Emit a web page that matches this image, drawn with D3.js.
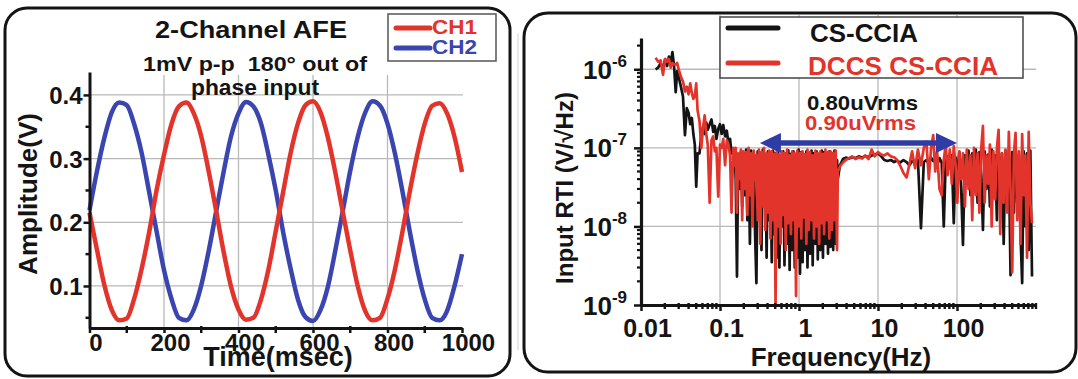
<!DOCTYPE html>
<html>
<head>
<meta charset="utf-8">
<script src="https://cdn.jsdelivr.net/npm/d3@7"></script>
<style>
  html, body { margin: 0; padding: 0; background: #fff; }
  svg { display: block; font-family: "Liberation Sans", Arial, sans-serif; font-weight: bold; }
</style>
</head>
<body>
<svg id="chart" width="1078" height="379"></svg>
<script>
// ---------- left panel: 2-channel AFE time trace ----------
const timeMs = [0, 20, 40, 60, 80, 100, 120, 140, 160, 180, 200, 220, 240, 260, 280, 300, 320, 340, 360, 380,
  400, 420, 440, 460, 480, 500, 520, 540, 560, 580, 600, 620, 640, 660, 680, 700, 720, 740, 760, 780,
  800, 820, 840, 860, 880, 900, 920, 940, 960, 980, 1000];
const ch1Volts = [0.215, 0.157, 0.101, 0.062, 0.046, 0.049, 0.080, 0.127, 0.184, 0.250,
  0.306, 0.354, 0.382, 0.388, 0.371, 0.335, 0.280, 0.218, 0.154, 0.099,
  0.063, 0.047, 0.050, 0.078, 0.125, 0.186, 0.248, 0.309, 0.356, 0.384,
  0.390, 0.373, 0.333, 0.278, 0.216, 0.156, 0.100, 0.061, 0.046, 0.050,
  0.080, 0.126, 0.185, 0.249, 0.307, 0.355, 0.383, 0.387, 0.371, 0.334, 0.279];
const ch2Volts = [0.219, 0.280, 0.333, 0.373, 0.388, 0.384, 0.354, 0.309, 0.248, 0.186,
  0.125, 0.080, 0.050, 0.046, 0.063, 0.101, 0.155, 0.217, 0.279, 0.335,
  0.371, 0.389, 0.382, 0.356, 0.307, 0.250, 0.184, 0.127, 0.078, 0.051,
  0.045, 0.062, 0.099, 0.156, 0.218, 0.281, 0.334, 0.372, 0.390, 0.383,
  0.355, 0.308, 0.249, 0.185, 0.126, 0.079, 0.050, 0.046, 0.061, 0.100, 0.150];
const timeTicks = [0, 200, 400, 600, 800, 1000];
const timeMinor = [100, 300, 500, 700, 900];
const ampTicks = [0.1, 0.2, 0.3, 0.4];
const ampMinor = [0.05, 0.15, 0.25, 0.35];
const channelNames = ['CH1', 'CH2'];

// ---------- right panel: input-referred noise spectrum (nV/rtHz) ----------
const freqHz = [
  0.0153, 0.0165, 0.0177, 0.019, 0.0202, 0.0214, 0.0226, 0.0238, 0.025, 0.0262,
  0.0275, 0.0287, 0.030, 0.032, 0.034, 0.036, 0.038, 0.040, 0.042, 0.044,
  0.046, 0.048, 0.050, 0.052, 0.055, 0.058, 0.061, 0.064, 0.067, 0.070,
  0.074, 0.078, 0.082, 0.086, 0.090, 0.095, 0.100, 0.105, 0.110, 0.116,
  0.122, 0.128, 0.134, 0.140, 0.147,
  0.152, 0.158, 0.164, 0.170, 0.177, 0.184, 0.191, 0.198, 0.206, 0.214,
  0.222, 0.230, 0.239, 0.248, 0.258, 0.268, 0.278, 0.289, 0.300, 0.311,
  0.323, 0.335, 0.348, 0.361, 0.375, 0.389, 0.404, 0.419, 0.435, 0.452,
  0.469, 0.487, 0.505, 0.524, 0.544, 0.565, 0.586, 0.608, 0.631, 0.655,
  0.680, 0.706, 0.733, 0.761, 0.790, 0.820, 0.851, 0.883, 0.917, 0.952,
  0.988, 1.03, 1.07, 1.11, 1.15, 1.19, 1.24, 1.28, 1.33, 1.38,
  1.44, 1.49, 1.55, 1.61, 1.67, 1.73, 1.80, 1.86, 1.94, 2.01,
  2.08, 2.16, 2.25, 2.33, 2.42, 2.51, 2.61, 2.71, 2.81, 2.92, 3.03,
  3.1, 3.3, 3.6, 3.9, 4.3, 4.7, 5.2, 5.7, 6.3, 6.9,
  7.6, 8.3, 9.1, 10, 11, 12, 13.2, 14.5, 16, 17.5,
  19, 21, 23, 25, 27, 29.5, 32, 35, 38,
  41, 44, 47, 50, 53, 56, 60, 64, 68, 72,
  76, 81, 86, 91, 96, 101, 107, 113, 119, 126,
  133, 140, 148, 156, 164, 173, 182, 192, 202, 213,
  224, 236, 248, 261, 275, 289, 304, 320, 336, 353,
  371, 390, 410, 431, 453, 476, 500, 525, 551, 578,
  607, 637, 668, 700, 734, 770, 808, 848, 890];
const csCciaNv = [
  1000, 1050, 1200, 1000, 1350, 1100, 1450, 1200, 1650, 1100,
  510, 950, 800, 600, 450, 145, 320, 280, 200, 240,
  150, 110, 32, 85, 85, 150, 185, 150, 210, 170,
  200, 230, 160, 190, 130, 175, 200, 150, 195, 140,
  165, 110, 130, 85, 95,
  95, 40, 2.3, 80, 30, 90, 18, 85, 25, 95,
  12, 88, 6, 92, 20, 80, 8, 1.9, 90, 15,
  85, 5, 95, 25, 82, 4, 90, 12, 78, 3.5,
  92, 8, 85, 4, 88, 3, 80, 10, 90, 3.2,
  85, 6, 93, 2.8, 84, 5, 90, 3, 82, 4,
  95, 2.5, 88, 3.5, 80, 5, 90, 3, 85, 4.5,
  92, 3.2, 86, 6, 90, 3.8, 83, 5, 92, 4,
  88, 6, 85, 4.5, 90, 5.5, 86, 5, 92, 6, 70,
  40, 60, 72, 75, 73, 76, 74, 78, 75, 79,
  76, 80, 82, 85, 78, 70, 68, 70, 66, 69,
  65, 70, 66, 60, 68, 64, 70, 9.5, 66,
  70, 62, 75, 68, 72, 60, 74, 65, 10, 70,
  78, 55, 80, 11, 75, 45, 88, 30, 5.8, 80,
  35, 92, 25, 85, 40, 95, 20, 88, 45, 9,
  90, 30, 82, 18, 95, 35, 80, 12, 90, 28,
  85, 6, 92, 25, 80, 2.4, 88, 15, 95, 20,
  82, 8, 1.9, 90, 10, 85, 5, 92, 2.3];
const dccsCsCciaNv = [
  1400, 1250, 1300, 850, 1350, 1250, 1350, 1050, 1200, 1150,
  1150, 1200, 1000, 800, 700, 520, 600, 480, 660, 500,
  420, 450, 660, 300, 220, 100, 180, 260, 150, 110,
  20, 125, 140, 90, 100, 24, 110, 100, 130, 60,
  125, 110, 80, 15, 100,
  60, 100, 15, 85, 40, 95, 12, 90, 30, 88,
  14, 100, 25, 85, 10, 92, 40, 80, 12, 95,
  6, 88, 18, 100, 9, 85, 15, 92, 7, 90,
  12, 84, 1.05, 95, 10, 82, 6, 90, 14, 86,
  5, 95, 11, 80, 8, 90, 12, 85, 1.3, 92,
  10, 86, 7, 90, 13, 83, 6, 95, 9, 88,
  12, 80, 7, 92, 10, 85, 6, 90, 11, 84,
  8, 95, 12, 88, 7, 90, 9, 86, 12, 92, 5,
  50, 58, 65, 70, 74, 78, 72, 76, 73, 80,
  72, 95, 78, 88, 82, 80, 85, 78, 76, 70,
  60, 48, 42, 62, 90, 55, 95, 60, 100,
  120, 40, 100, 145, 50, 90, 30, 25, 70, 110,
  45, 95, 35, 105, 60, 20, 90, 40, 85, 18,
  95, 30, 80, 12, 100, 25, 85, 15, 95, 190,
  20, 80, 35, 110, 10, 90, 22, 100, 170, 8,
  85, 20, 95, 15, 160, 30, 2.6, 85, 155, 12,
  90, 6, 150, 25, 80, 4, 160, 20, 11];
const freqTicks = [0.01, 0.1, 1, 10, 100];
const freqTickLabels = ['0.01', '0.1', '1', '10', '100'];
const rtiTicks = [1e-9, 1e-8, 1e-7, 1e-6];
const rtiTickExps = ['-9', '-8', '-7', '-6'];
const seriesNames = ['CS-CCIA', 'DCCS CS-CCIA'];
const rmsLabels = ['0.80uVrms', '0.90uVrms'];
const bandHz = [0.32, 100];
const bandLevel = 1.15e-7;

const RED = '#e3342b', BLUE = '#3a45b0', ARROW = '#2f3ca6', GRID = '#b9b9b9', INK = '#141414';

const svg = d3.select('#chart');

// panel frames
svg.append('rect').attr('x', 5).attr('y', 8).attr('width', 505).attr('height', 368)
  .attr('rx', 22).attr('fill', 'none').attr('stroke', INK).attr('stroke-width', 3);
svg.append('line').attr('x1', 518).attr('x2', 518).attr('y1', 33).attr('y2', 350)
  .attr('stroke', '#d0d0d0').attr('stroke-width', 1);
svg.append('rect').attr('x', 524).attr('y', 13).attr('width', 552).attr('height', 359)
  .attr('rx', 24).attr('fill', 'none').attr('stroke', INK).attr('stroke-width', 3);

// ================= LEFT =================
const xL = d3.scaleLinear().domain([0, 1000]).range([89.5, 462]);
const yL = d3.scaleLinear().domain([0.034, 0.436]).range([328, 72]);
const gL = svg.append('g');

gL.selectAll('.hgrid').data(ampTicks).join('line')
  .attr('x1', xL(0)).attr('x2', xL(1000) + 1)
  .attr('y1', d => yL(d)).attr('y2', d => yL(d))
  .attr('stroke', GRID).attr('stroke-width', 1.3);
gL.selectAll('.vgrid').data(timeTicks.slice(1, -1)).join('line')
  .attr('x1', d => xL(d)).attr('x2', d => xL(d))
  .attr('y1', yL.range()[0]).attr('y2', 75)
  .attr('stroke', GRID).attr('stroke-width', 1.3);

const lineL = d3.line().x(d => xL(d.t)).y(d => yL(d.v)).curve(d3.curveMonotoneX);
const ch1 = timeMs.map((t, i) => ({ t, v: ch1Volts[i] }));
const ch2 = timeMs.map((t, i) => ({ t, v: ch2Volts[i] }));
gL.append('path').datum(ch2).attr('d', lineL).attr('fill', 'none')
  .attr('stroke', BLUE).attr('stroke-width', 4.5).attr('stroke-linejoin', 'round');
gL.append('path').datum(ch1).attr('d', lineL).attr('fill', 'none')
  .attr('stroke', RED).attr('stroke-width', 4.5).attr('stroke-linejoin', 'round');

// axes
const axL = gL.append('g').attr('transform', `translate(${xL(0)},0)`)
  .call(d3.axisLeft(yL).tickValues(ampTicks).tickSize(6).tickSizeOuter(0).tickFormat(d3.format('.1f')));
axL.select('.domain').attr('stroke', INK).attr('stroke-width', 3);
axL.selectAll('.tick line').attr('stroke', INK).attr('stroke-width', 2.5);
axL.selectAll('.tick text').attr('x', -7).attr('dy', 8.5).attr('font-size', 24)
  .attr('font-family', null).attr('fill', INK);
gL.selectAll('.yminor').data(ampMinor).join('line')
  .attr('x1', xL(0) - 4).attr('x2', xL(0)).attr('y1', d => yL(d)).attr('y2', d => yL(d))
  .attr('stroke', INK).attr('stroke-width', 2.5);

const axB = gL.append('g').attr('transform', `translate(0,${yL.range()[0]})`)
  .call(d3.axisBottom(xL).tickValues(timeTicks).tickSize(5).tickSizeOuter(0).tickFormat(d3.format('d')));
axB.select('.domain').attr('stroke', INK).attr('stroke-width', 3);
axB.selectAll('.tick line').attr('stroke', INK).attr('stroke-width', 2.5);
axB.selectAll('.tick text').attr('y', 23).attr('dy', 0).attr('dx', 6).attr('font-size', 24)
  .attr('font-family', null).attr('fill', INK);
gL.selectAll('.xminor').data(timeMinor).join('line')
  .attr('x1', d => xL(d)).attr('x2', d => xL(d))
  .attr('y1', yL.range()[0] - 2).attr('y2', yL.range()[0] + 5)
  .attr('stroke', INK).attr('stroke-width', 2.5);

// titles and labels
gL.append('text').attr('x', 155).attr('y', 38).attr('font-size', 24)
  .attr('textLength', 192).attr('lengthAdjust', 'spacingAndGlyphs').attr('fill', INK)
  .text('2-Channel AFE');
gL.append('text').attr('x', 143).attr('y', 71).attr('font-size', 21)
  .attr('textLength', 224).attr('lengthAdjust', 'spacingAndGlyphs').attr('fill', INK)
  .attr('xml:space', 'preserve').text('1mV p-p  180\u00b0 out of');
gL.append('text').attr('x', 191).attr('y', 95).attr('font-size', 22)
  .attr('textLength', 128).attr('lengthAdjust', 'spacingAndGlyphs').attr('fill', INK)
  .text('phase input');
gL.append('text').attr('x', 278).attr('y', 366).attr('text-anchor', 'middle')
  .attr('font-size', 27).attr('fill', INK).text('Time(msec)');
gL.append('text').attr('transform', 'translate(37,194) rotate(-90)').attr('text-anchor', 'middle')
  .attr('font-size', 26).attr('fill', INK).text('Amplitude(V)');

// legend
gL.append('rect').attr('x', 388).attr('y', 14).attr('width', 108).attr('height', 47)
  .attr('fill', '#fff').attr('stroke', '#555').attr('stroke-width', 1.5);
const legL = gL.selectAll('.legL').data(channelNames).join('g')
  .attr('transform', (d, i) => `translate(0,${i * 20})`);
legL.append('line').attr('x1', 396).attr('x2', 430).attr('y1', 28).attr('y2', 28)
  .attr('stroke', (d, i) => i ? BLUE : RED).attr('stroke-width', 5).attr('stroke-linecap', 'round');
legL.append('text').attr('x', 432).attr('y', 34).attr('font-size', 21)
  .attr('textLength', 45).attr('lengthAdjust', 'spacingAndGlyphs')
  .attr('fill', (d, i) => i ? BLUE : RED).text(d => d);

// ================= RIGHT =================
const xR = d3.scaleLog().domain([0.01, 1000]).range([641, 1036]);
const yR = d3.scaleLog().domain([1e-9, 2.5e-6]).range([305, 38]);
const gR = svg.append('g');

gR.selectAll('.hgrid').data(rtiTicks.slice(1)).join('line')
  .attr('x1', xR(0.01)).attr('x2', xR(1000))
  .attr('y1', d => yR(d)).attr('y2', d => yR(d))
  .attr('stroke', GRID).attr('stroke-width', 1.3);
gR.selectAll('.vgrid').data(freqTicks.slice(1)).join('line')
  .attr('x1', d => xR(d)).attr('x2', d => xR(d))
  .attr('y1', yR.range()[0]).attr('y2', 15)
  .attr('stroke', GRID).attr('stroke-width', 1.3);

const lineR = d3.line().x(d => xR(d.f)).y(d => yR(d.v));
const blackSeries = freqHz.map((f, i) => ({ f, v: csCciaNv[i] * 1e-9 }));
const redSeries = freqHz.map((f, i) => ({ f, v: dccsCsCciaNv[i] * 1e-9 }));
gR.append('path').datum(blackSeries).attr('d', lineR).attr('fill', 'none')
  .attr('stroke', INK).attr('stroke-width', 2.7).attr('stroke-linejoin', 'round');
gR.append('path').datum(redSeries).attr('d', lineR).attr('fill', 'none')
  .attr('stroke', RED).attr('stroke-width', 2.7).attr('stroke-linejoin', 'round');

// axes
const minorY = yR.ticks().filter(d => !rtiTicks.some(t => Math.abs(t - d) / t < 1e-6));
const axRL = gR.append('g').attr('transform', `translate(${xR(0.01)},0)`)
  .call(d3.axisLeft(yR).tickValues(rtiTicks).tickSize(7).tickSizeOuter(0).tickFormat(() => '10'));
axRL.select('.domain').attr('stroke', INK).attr('stroke-width', 3.2);
axRL.selectAll('.tick line').attr('stroke', INK).attr('stroke-width', 2.5);
axRL.selectAll('.tick text').attr('x', -14).attr('dy', 9).attr('font-size', 26)
  .attr('font-family', null).attr('fill', INK)
  .append('tspan').attr('dy', -12).attr('font-size', 17).text((d, i) => rtiTickExps[i]);
gR.selectAll('.yminor').data(minorY).join('line')
  .attr('x1', xR(0.01) - 4).attr('x2', xR(0.01)).attr('y1', d => yR(d)).attr('y2', d => yR(d))
  .attr('stroke', INK).attr('stroke-width', 2.2);

const minorX = xR.ticks().filter(d => !freqTicks.some(t => Math.abs(t - d) / t < 1e-6));
const axRB = gR.append('g').attr('transform', `translate(0,${yR.range()[0]})`)
  .call(d3.axisBottom(xR).tickValues(freqTicks).tickSize(6).tickSizeOuter(0)
    .tickFormat((d, i) => freqTickLabels[i]));
axRB.select('.domain').attr('stroke', INK).attr('stroke-width', 3.2);
axRB.selectAll('.tick line').attr('stroke', INK).attr('stroke-width', 2.5);
axRB.selectAll('.tick text').attr('y', 32).attr('dy', 0).attr('dx', 6).attr('font-size', 25)
  .attr('font-family', null).attr('fill', INK);
gR.selectAll('.xminor').data(minorX).join('line')
  .attr('x1', d => xR(d)).attr('x2', d => xR(d))
  .attr('y1', yR.range()[0] - 2).attr('y2', yR.range()[0] + 4)
  .attr('stroke', INK).attr('stroke-width', 2.4);

// band arrow
const ay = yR(bandLevel), ax0 = xR(bandHz[0]), ax1 = xR(bandHz[1]);
gR.append('line').attr('x1', ax0 + 16).attr('x2', ax1 - 16).attr('y1', ay).attr('y2', ay)
  .attr('stroke', ARROW).attr('stroke-width', 5.5);
gR.append('path').attr('fill', ARROW)
  .attr('d', `M${ax0},${ay}L${ax0 + 21},${ay - 10}L${ax0 + 21},${ay + 10}Z`);
gR.append('path').attr('fill', ARROW)
  .attr('d', `M${ax1},${ay}L${ax1 - 21},${ay - 10}L${ax1 - 21},${ay + 10}Z`);
gR.selectAll('.rms').data(rmsLabels).join('text')
  .attr('x', (d, i) => 807 - i * 2).attr('y', (d, i) => 110 + i * 20).attr('font-size', 21)
  .attr('textLength', 111).attr('lengthAdjust', 'spacingAndGlyphs')
  .attr('fill', (d, i) => i ? RED : INK).text(d => d);

// legend
gR.append('rect').attr('x', 720).attr('y', 17).attr('width', 303).attr('height', 61)
  .attr('fill', '#fff').attr('stroke', '#444').attr('stroke-width', 1.5);
const legR = gR.selectAll('.legR').data(seriesNames).join('g')
  .attr('transform', (d, i) => `translate(0,${i * 35})`);
legR.append('line').attr('x1', 728).attr('x2', 778).attr('y1', 28).attr('y2', 28)
  .attr('stroke', (d, i) => i ? RED : INK).attr('stroke-width', 5).attr('stroke-linecap', 'round');
legR.append('text').attr('x', (d, i) => 810 - i * 2).attr('y', (d, i) => 42 - i * 2)
  .attr('font-size', (d, i) => i ? 26 : 25)
  .attr('textLength', (d, i) => i ? 190 : 108).attr('lengthAdjust', 'spacingAndGlyphs')
  .attr('fill', (d, i) => i ? RED : INK).text(d => d);

gR.append('text').attr('x', 841).attr('y', 366).attr('text-anchor', 'middle')
  .attr('font-size', 26).attr('fill', INK).text('Frequency(Hz)');
gR.append('text').attr('transform', 'translate(573,188) rotate(-90)').attr('text-anchor', 'middle')
  .attr('font-size', 24).attr('fill', INK).text('Input RTI (V/\u221aHz)');
</script>
</body>
</html>
